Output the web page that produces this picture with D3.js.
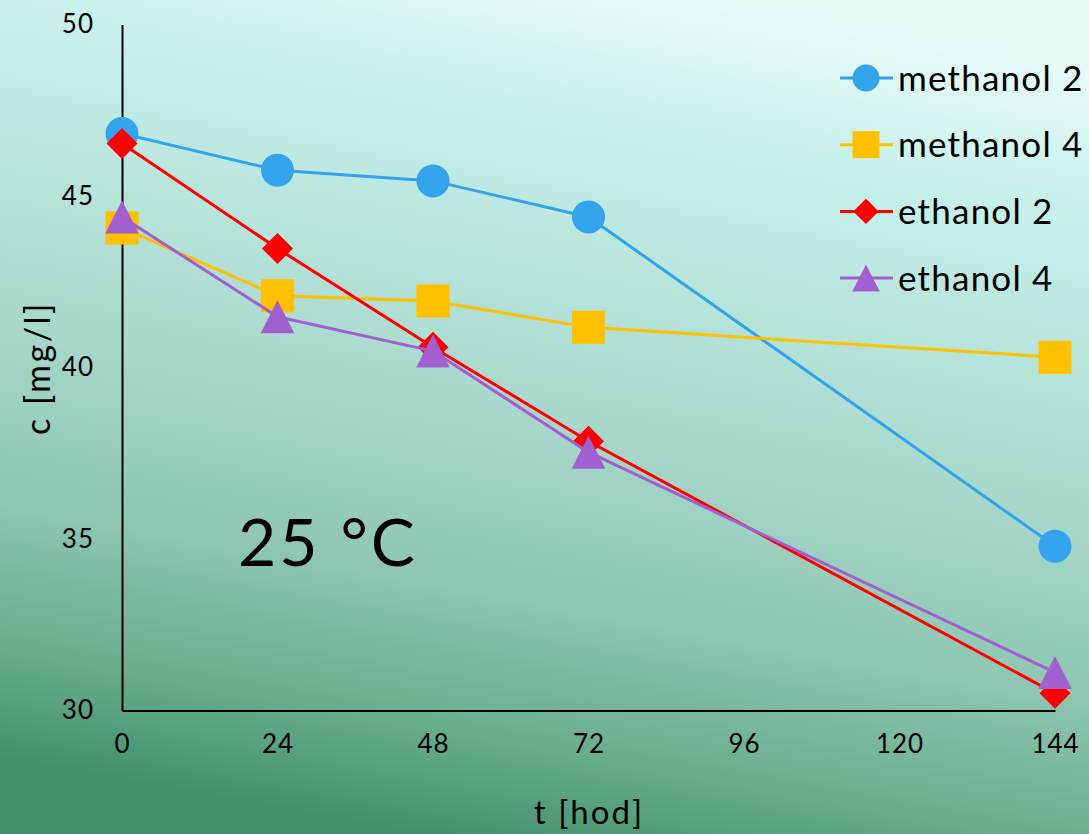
<!DOCTYPE html>
<html><head><meta charset="utf-8">
<script src="https://cdn.jsdelivr.net/npm/d3@7"></script>
<style>html,body{margin:0;padding:0;overflow:hidden;}svg{display:block;}</style>
</head><body>
<script>
const times = [0, 24, 48, 72, 144];
const xTicks = [0, 24, 48, 72, 96, 120, 144];
const yTicks = [30, 35, 40, 45, 50];
const methanol2 = [46.82, 45.75, 45.44, 44.39, 34.79];
const methanol4 = [44.07, 42.09, 41.94, 41.17, 40.30];
const ethanol2  = [46.53, 43.47, 40.59, 37.85, 30.50];
const ethanol4  = [44.39, 41.48, 40.48, 37.53, 31.11];
const seriesNames = ["methanol 2", "methanol 4", "ethanol 2", "ethanol 4"];

const W = 1089, H = 834;
const font = "Lato, 'DejaVu Sans', sans-serif";
const svg = d3.select("body").append("svg").attr("width", W).attr("height", H);

const defs = svg.append("defs");
const g0 = defs.append("linearGradient").attr("id","bg")
  .attr("x1","0.62").attr("y1","0").attr("x2","0.38").attr("y2","1");
g0.append("stop").attr("offset","0").attr("stop-color","#e6faf8");
g0.append("stop").attr("offset","0.15").attr("stop-color","#c8f1ec");
g0.append("stop").attr("offset","0.5").attr("stop-color","#a8d8cc");
g0.append("stop").attr("offset","0.7").attr("stop-color","#8fc7b3");
g0.append("stop").attr("offset","0.88").attr("stop-color","#67ac8c");
g0.append("stop").attr("offset","1").attr("stop-color","#43906c");
svg.append("rect").attr("width",W).attr("height",H).attr("fill","url(#bg)");

const x = d3.scaleLinear().domain([0,144]).range([122,1055]);
const y = d3.scaleLinear().domain([30,50]).range([710.5,24.5]);

// axes
const xAxis = svg.append("g").attr("transform",`translate(0,${y(30)})`)
  .call(d3.axisBottom(x).tickValues(xTicks).tickSize(0).tickPadding(24));
const yAxis = svg.append("g").attr("transform",`translate(${x(0)},0)`)
  .call(d3.axisLeft(y).tickValues(yTicks).tickSize(0).tickPadding(28));
[xAxis,yAxis].forEach(a=>{
  a.select(".domain").attr("stroke","#000").attr("stroke-width",2);
  a.selectAll("text").attr("font-family",font).attr("font-size",26).attr("fill","#000")
    .attr("letter-spacing",1);
});

svg.append("text").attr("x",589).attr("y",824).attr("text-anchor","middle")
  .attr("font-family",font).attr("font-size",33).attr("letter-spacing",2).text("t [hod]");
svg.append("text").attr("transform","translate(50,368) rotate(-90)").attr("text-anchor","middle")
  .attr("font-family",font).attr("font-size",34).attr("letter-spacing",2.5).text("c [mg/l]");
svg.append("text").attr("x",238).attr("y",566)
  .attr("font-family",font).attr("font-size",66).attr("letter-spacing",3).text("25 °C");

const series = [
  {name: seriesNames[0], vals: methanol2, color:"#33a3ec", sym:"circle"},
  {name: seriesNames[1], vals: methanol4, color:"#ffc000", sym:"square"},
  {name: seriesNames[2], vals: ethanol2,  color:"#ff0000", sym:"diamond"},
  {name: seriesNames[3], vals: ethanol4,  color:"#a15fcf", sym:"triangle"},
];

function marker(sel, s, k){
  if (s.sym === "circle") {
    sel.append("path").attr("d", d3.symbol().type(d3.symbolCircle).size(Math.PI*(k/2)*(k/2))()).attr("fill",s.color);
  } else if (s.sym === "square") {
    sel.append("path").attr("d", d3.symbol().type(d3.symbolSquare).size(k*k)()).attr("fill",s.color);
  } else if (s.sym === "diamond") {
    const side = k*0.94/Math.SQRT2;
    sel.append("path").attr("d", d3.symbol().type(d3.symbolSquare).size(side*side)())
      .attr("transform","rotate(45)").attr("fill",s.color);
  } else {
    const w = k*1.02, h = k;
    sel.append("path").attr("d",`M0,${-h/2}L${w/2},${h/2}L${-w/2},${h/2}Z`).attr("fill",s.color);
  }
}

const line = d3.line().x(d=>x(d[0])).y(d=>y(d[1]));
series.forEach(s=>{
  const pts = times.map((t,i)=>[t,s.vals[i]]);
  svg.append("path").attr("d",line(pts)).attr("fill","none").attr("stroke",s.color).attr("stroke-width",3);
  pts.forEach(p=>{
    const gm = svg.append("g").attr("transform",`translate(${x(p[0])},${y(p[1])})`);
    marker(gm, s, 33);
  });
});

// legend
const leg = svg.append("g");
series.forEach((s,i)=>{
  const yy = 78 + i*66.7;
  const gl = leg.append("g").attr("transform",`translate(0,${yy})`);
  gl.append("line").attr("x1",840).attr("x2",893).attr("stroke",s.color).attr("stroke-width",3);
  const gm = gl.append("g").attr("transform","translate(866,0)");
  marker(gm, s, 27);
  gl.append("text").attr("x",898).attr("y",0).attr("dy","0.36em")
    .attr("font-family",font).attr("font-size",35).attr("letter-spacing",1.2).attr("fill","#000").text(s.name);
});
</script>
</body></html>
